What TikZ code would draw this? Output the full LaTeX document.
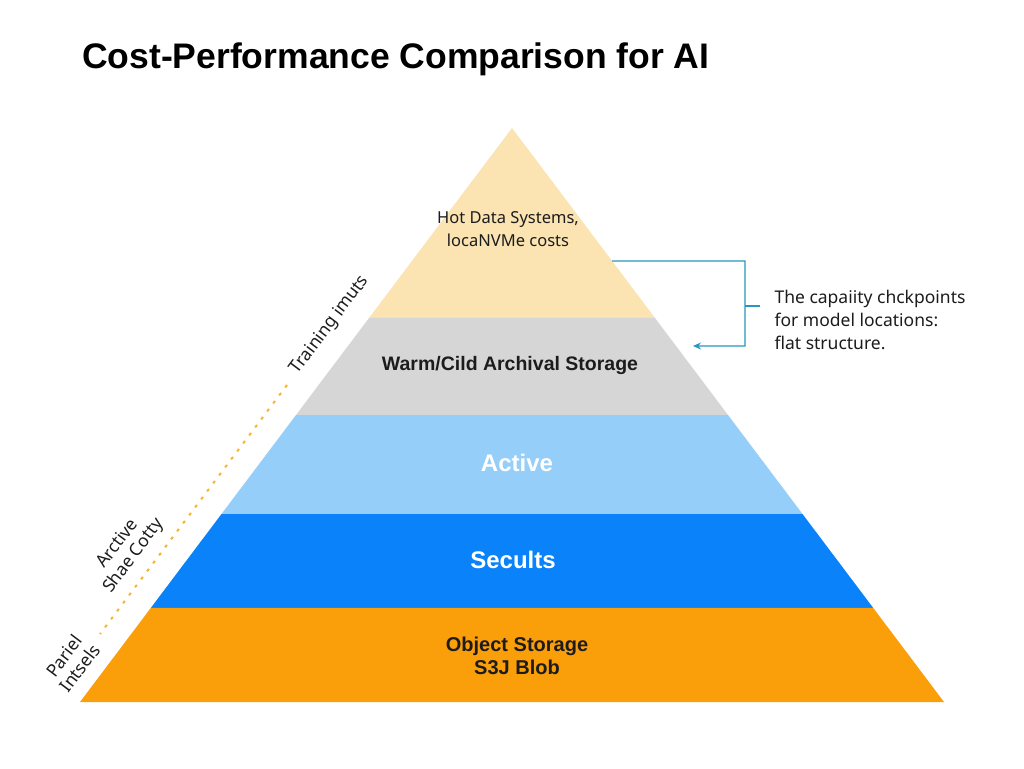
\documentclass[tikz,border=0pt]{standalone}
\usepackage{fontspec}
\setmainfont{Noto Sans}
\newfontfamily\titlefont{Liberation Sans}
\usepackage{tikz}
\usetikzlibrary{arrows,arrows.meta,positioning,calc}
\definecolor{pyhot}{RGB}{251,227,178}
\definecolor{pywarm}{RGB}{214,214,214}
\definecolor{pyactive}{RGB}{150,206,250}
\definecolor{pyresult}{RGB}{10,130,250}
\definecolor{pyobject}{RGB}{250,158,10}
\definecolor{dfteal}{RGB}{40,150,190}
\definecolor{dfdot}{RGB}{240,180,60}
\definecolor{dftext}{RGB}{28,28,28}
\tikzstyle{bracket} = [line width=1.2pt,-{Stealth[length=8pt,width=7pt]},color=dfteal]
\tikzstyle{tierlabel} = [align=center, text=dftext, font=\fontsize{16.5}{23}\selectfont]
\tikzstyle{tierbold} = [align=center, font=\titlefont\bfseries\fontsize{24}{23}\selectfont]
\tikzstyle{sidelabel} = [align=center, rotate=53, inner sep=1pt, text=dftext, font=\fontsize{17.5}{20}\selectfont]

\begin{document}
\begin{tikzpicture}[x=1pt, y=-1pt]
    \useasboundingbox (0,0) rectangle (1024,768);

    % title
    \node[anchor=base west, inner sep=0pt, font=\titlefont\bfseries\fontsize{35.5}{40}\selectfont] (title) at (82,68) {Cost-Performance Comparison for AI};

    % pyramid bands
    \coordinate (apex) at (512,128);
    \coordinate (bl) at (80,702);
    \coordinate (br) at (944,702);
    \foreach \a/\b/\c in {0/0.331/pyhot, 0.331/0.5/pywarm, 0.5/0.6725/pyactive, 0.6725/0.836/pyresult, 0.836/1/pyobject}
        \fill[\c] ($(apex)!\a!(bl)$) -- ($(apex)!\b!(bl)$) -- ($(apex)!\b!(br)$) -- ($(apex)!\a!(br)$) -- cycle;

    \node[tierlabel] (hot) at (508,229) {Hot Data Systems,\\ locaNVMe costs};
    \node[tierbold, text=dftext, font=\titlefont\bfseries\fontsize{19.5}{20}\selectfont] (warm) at (510,365) {Warm/Cild Archival Storage};
    \node[tierbold, text=white] (active) at (517,463) {Active};
    \node[tierbold, text=white] (result) at (513,560) {Secults};
    \node[tierlabel, font=\titlefont\bfseries\fontsize{20}{23}\selectfont] (object) at (517,656) {Object Storage\\ S3J Blob};

    % note on the right
    \node[anchor=west, align=left, text=dftext, font=\fontsize{17.5}{23}\selectfont] (note) at (771,320) {The capaiity chckpoints\\ for model locations:\\ flat structure.};
    \coordinate (hotedge) at ($(apex)!0.2317!(br)$);
    \coordinate (warmtip) at (693,346);
    \coordinate (notetick) at (760,306);
    \draw[bracket] (hotedge) -- (745,261) |- (warmtip);
    \draw[bracket,-] (745,306) -- (notetick);

    % side labels
    \node[sidelabel] (train) at (330,325) {Training imuts};
    \node[sidelabel] (arctive) at (126,550) {Arctive\\ Shae Cotty};
    \node[sidelabel] (pariel) at (72,662) {Pariel\\ Intsels};
    \coordinate (dottop) at (287,385);
    \coordinate (dotbot) at (100,634);
    \draw[dfdot, line width=2pt, dash pattern=on 3pt off 7pt] (dottop) -- (dotbot);
\end{tikzpicture}
\end{document}
